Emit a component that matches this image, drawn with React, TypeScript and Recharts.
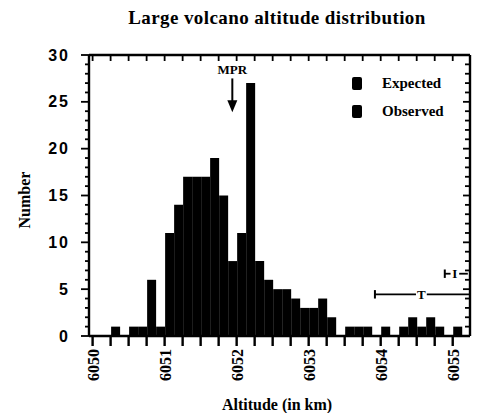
import { Bar, BarChart, ReferenceDot, ReferenceLine, XAxis, YAxis } from 'recharts'

// 0.25 km altitude bins (lower edge); each bin carries an Expected and an Observed bar
const BIN_START = [
  6050, 6050.25, 6050.5, 6050.75, 6051, 6051.25, 6051.5, 6051.75, 6052, 6052.25, 6052.5,
  6052.75, 6053, 6053.25, 6053.5, 6053.75, 6054, 6054.25, 6054.5, 6054.75, 6055,
]
const EXPECTED = [0, 1, 1, 6, 11, 17, 17, 15, 11, 8, 5, 4, 3, 2, 1, 1, 1, 1, 1, 1, 1]
const OBSERVED = [0, 0, 1, 1, 14, 17, 19, 8, 27, 6, 5, 3, 4, 0, 1, 0, 0, 2, 2, 0, 0]
const SERIES = ['Expected', 'Observed']

const X_TICKS = BIN_START
const Y_TICKS = [
  0, 1, 2, 3, 4, 5, 6, 7, 8, 9, 10, 11, 12, 13, 14, 15, 16, 17, 18, 19, 20, 21, 22, 23, 24, 25,
  26, 27, 28, 29, 30,
]
const X_DOMAIN = [6049.95, 6055.24]
const Y_DOMAIN = [0, 30]

const MPR = 6051.94
const T_RANGE = [6053.92, 6055.24]
const I_RANGE = [6054.89, 6055.21]

const SERIF = '"Liberation Serif", "DejaVu Serif", serif'
const SANS = '"Liberation Sans", Arial, sans-serif'
const INK = '#000'
const FRAME_W = 2.4

const data = BIN_START.map((start, i) => ({
  mid: start + 0.125,
  expected: EXPECTED[i],
  observed: OBSERVED[i],
}))

function BottomTick({ x, y, payload }: any) {
  const v = payload.value as number
  return (
    <g>
      <rect x={x - 1.2} y={y} width={2.4} height={10} fill={INK} />
      {Number.isInteger(v) && (
        <text
          x={x + 1}
          y={y + 13}
          transform={`rotate(-90 ${x + 1} ${y + 13})`}
          textAnchor="end"
          dominantBaseline="central"
          fontFamily={SERIF}
          fontWeight={700}
          fontSize={16}
          fill={INK}
        >
          {v}
        </text>
      )}
    </g>
  )
}

function LeftTick({ x, y, payload }: any) {
  const major = payload.value % 5 === 0
  const len = major ? 8 : 4
  return (
    <g>
      <rect x={x - len} y={y - 0.9} width={len} height={1.8} fill={INK} />
      {major && (
        <text
          x={x - 19}
          y={y}
          textAnchor="end"
          dominantBaseline="central"
          fontFamily={SANS}
          fontWeight={700}
          fontSize={16}
          letterSpacing={2}
          fill={INK}
        >
          {payload.value}
        </text>
      )}
    </g>
  )
}

// inward tick marks on the top and right sides of the frame
const topMark = ({ cx, cy }: any) => <rect x={cx - 0.9} y={cy} width={1.8} height={6} fill={INK} />
const rightMark = (major: boolean) => ({ cx, cy }: any) => {
  const len = major ? 7 : 5
  return <rect x={cx - len} y={cy - 0.9} width={len} height={1.8} fill={INK} />
}

const arrowHead = ({ cx, cy }: any) => (
  <path d={`M${cx},${cy} L${cx - 5},${cy - 12} L${cx + 5},${cy - 12} Z`} fill={INK} />
)

const textMark = (label: string, size: number) => ({ cx, cy }: any) => (
  <text
    x={cx}
    y={cy}
    textAnchor="middle"
    dominantBaseline="central"
    fontFamily={SERIF}
    fontWeight={700}
    fontSize={size}
    fill={INK}
  >
    {label}
  </text>
)

const capY = (y: number) => [{ y: y - 0.45 }, { y: y + 0.45 }]

export default function App() {
  const tY = 4.45
  const iY = 6.65
  const [x0, x1] = X_DOMAIN
  const [y0, y1] = Y_DOMAIN
  const frame = [
    [{ x: x0, y: y1 }, { x: x1, y: y1 }],
    [{ x: x1, y: y0 }, { x: x1, y: y1 }],
  ]
  return (
    <div
      style={{
        position: 'absolute',
        left: 0,
        top: 0,
        width: 479,
        height: 413,
        overflow: 'hidden',
        background: '#fff',
      }}
    >
      <BarChart
        width={479}
        height={413}
        data={data}
        margin={{ top: 55, right: 9, bottom: 17, left: 29 }}
        barCategoryGap={0.5}
        barGap={0}
      >
        <XAxis
          dataKey="mid"
          type="number"
          domain={X_DOMAIN}
          allowDataOverflow
          ticks={X_TICKS}
          interval={0}
          height={60}
          tickSize={0}
          tickMargin={0}
          tickLine={false}
          tick={<BottomTick />}
          stroke={INK}
          axisLine={{ stroke: INK, strokeWidth: FRAME_W }}
        />
        <YAxis
          type="number"
          domain={Y_DOMAIN}
          ticks={Y_TICKS}
          interval={0}
          width={60}
          tickSize={0}
          tickMargin={0}
          tickLine={false}
          tick={<LeftTick />}
          stroke={INK}
          axisLine={{ stroke: INK, strokeWidth: FRAME_W }}
        />
        <Bar dataKey="expected" name={SERIES[0]} fill={INK} isAnimationActive={false} />
        <Bar dataKey="observed" name={SERIES[1]} fill={INK} isAnimationActive={false} />

        {/* top and right sides of the frame */}
        {frame.map((seg, i) => (
          <ReferenceLine key={`f${i}`} segment={seg} stroke={INK} strokeWidth={FRAME_W} ifOverflow="visible" />
        ))}
        {X_TICKS.map((t) => (
          <ReferenceDot key={`t${t}`} x={t} y={y1} shape={topMark} ifOverflow="visible" />
        ))}
        {Y_TICKS.map((t) => (
          <ReferenceDot key={`r${t}`} x={x1} y={t} shape={rightMark(t % 5 === 0)} ifOverflow="visible" />
        ))}

        {/* MPR arrow */}
        <ReferenceLine
          segment={[
            { x: MPR, y: 27.5 },
            { x: MPR, y: 25 },
          ]}
          stroke={INK}
          strokeWidth={2}
        />
        <ReferenceDot x={MPR} y={23.9} shape={arrowHead} />
        <ReferenceDot x={MPR} y={28.4} shape={textMark('MPR', 13)} />

        {/* T interval */}
        <ReferenceLine
          segment={[
            { x: T_RANGE[0], y: tY },
            { x: 6054.49, y: tY },
          ]}
          stroke={INK}
          strokeWidth={1.8}
        />
        <ReferenceLine
          segment={[
            { x: 6054.64, y: tY },
            { x: T_RANGE[1], y: tY },
          ]}
          stroke={INK}
          strokeWidth={1.8}
        />
        <ReferenceLine
          segment={capY(tY).map((p) => ({ x: T_RANGE[0], ...p }))}
          stroke={INK}
          strokeWidth={2}
        />
        <ReferenceDot x={6054.565} y={tY} shape={textMark('T', 13)} />

        {/* I interval */}
        <ReferenceLine
          segment={[
            { x: I_RANGE[0], y: iY },
            { x: 6054.97, y: iY },
          ]}
          stroke={INK}
          strokeWidth={1.8}
        />
        <ReferenceLine
          segment={[
            { x: 6055.09, y: iY },
            { x: I_RANGE[1], y: iY },
          ]}
          stroke={INK}
          strokeWidth={1.8}
        />
        <ReferenceLine
          segment={capY(iY).map((p) => ({ x: I_RANGE[0], ...p }))}
          stroke={INK}
          strokeWidth={2}
        />
        <ReferenceDot x={6055.03} y={iY} shape={textMark('I', 13)} />
      </BarChart>

      <div
        style={{
          position: 'absolute',
          left: 77,
          width: 400,
          top: 7,
          textAlign: 'center',
          fontFamily: SERIF,
          fontWeight: 700,
          fontSize: 19,
          letterSpacing: 0.4,
          lineHeight: '22px',
        }}
      >
        Large volcano altitude distribution
      </div>
      <div
        style={{
          position: 'absolute',
          left: -15,
          top: 190,
          width: 80,
          height: 20,
          lineHeight: '20px',
          textAlign: 'center',
          transform: 'rotate(-90deg)',
          fontFamily: SERIF,
          fontWeight: 700,
          fontSize: 16,
        }}
      >
        Number
      </div>
      <div
        style={{
          position: 'absolute',
          left: 177,
          width: 200,
          top: 396,
          textAlign: 'center',
          fontFamily: SERIF,
          fontWeight: 700,
          fontSize: 16,
          lineHeight: '17px',
        }}
      >
        Altitude (in km)
      </div>
      <div
        style={{
          position: 'absolute',
          left: 352,
          top: 69,
          fontFamily: SERIF,
          fontWeight: 700,
          fontSize: 15,
          color: INK,
        }}
      >
        {SERIES.map((name) => (
          <div key={name} style={{ display: 'flex', alignItems: 'center', height: 28 }}>
            <span
              style={{
                display: 'inline-block',
                width: 10,
                height: 13,
                background: INK,
                borderRadius: 2,
                marginRight: 20,
              }}
            />
            {name}
          </div>
        ))}
      </div>
    </div>
  )
}
